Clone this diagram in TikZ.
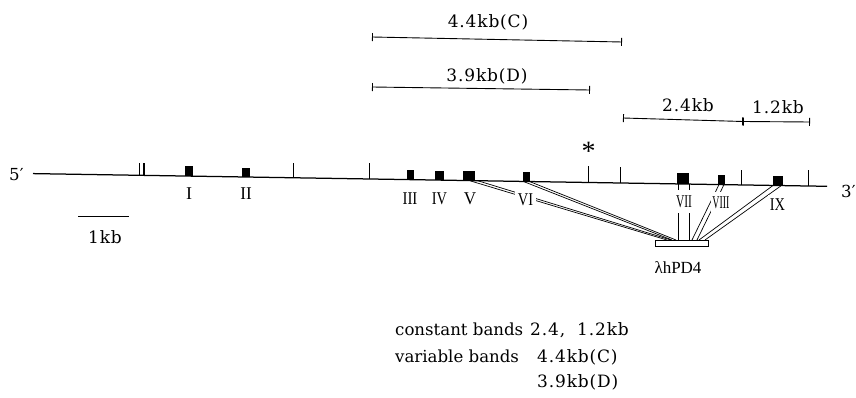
\documentclass[tikz,border=0pt]{standalone}
\usepackage{fontspec}
\usepackage{graphicx}
\setmainfont{Liberation Serif}
\newfontfamily\tf{DejaVu Serif}
\newfontfamily\nf[LetterSpace=5]{DejaVu Serif}
\usetikzlibrary{arrows.meta}
\begin{document}
\begin{tikzpicture}[x=1pt,y=-1pt,
  mainline/.style={line width=1.25pt},
  thinline/.style={line width=0.9pt},
  conn/.style={line width=0.7pt},
  barline/.style={line width=0.9pt,{Bar[width=8pt,line width=0.9pt]}-{Bar[width=8pt,line width=0.9pt]}},
  rn/.style={font=\fontsize{18}{18}\selectfont, fill=white, inner sep=1.8pt},
  num/.style={font=\nf\fontsize{17}{18}\selectfont, inner sep=0pt},
  txt/.style={font=\tf\fontsize{16.6}{18}\selectfont, inner sep=0pt},
  exon/.style={fill=black}]
\useasboundingbox (0,0) rectangle (856,398);
\def\ly#1{173.6+((#1)-33)*0.016}
% main line
\coordinate (L0) at (33,173.6);
\coordinate (L1) at (827,186.3);
\draw[mainline] (L0) -- (L1);
\node[txt, anchor=base west] (five) at (9,181) {5′};
\node[txt, anchor=base west] (three) at (841,197) {3′};
% ticks
\foreach \x/\h in {293/15,369/16,588/16,620/16,741/15,808/16}
  \draw[thinline] (\x,{\ly{\x}}) -- ++(0,-\h);
\draw[thinline] (139.5,{\ly{139.5}}) -- ++(0,-12);
\draw[line width=1.9pt] (144,{\ly{144}}) -- ++(0,-12);
% exons
\foreach \a/\b/\h in {185/193/10,242/250/9.5,407/414/9.5,435/444/9.5,463/475/10,523/530/9.5,677/689/11,718/725/9.5,773/783/9.5}
  \fill[exon] (\a,{\ly{(\a+\b)/2}}) rectangle (\b,{\ly{(\a+\b)/2}-\h});
% box and connectors
\coordinate (v1) at (470,180.8);
\coordinate (v2) at (478,180.8);
\coordinate (s1) at (524,181.7);
\coordinate (s2) at (530,181.7);
\coordinate (g1) at (678,184);
\coordinate (g2) at (689,184);
\coordinate (e1) at (719,184.6);
\coordinate (e2) at (724,184.6);
\coordinate (n1) at (773,185.5);
\coordinate (n2) at (781,185.8);
\draw[conn] (v1) -- (667,240);
\draw[conn] (v2) -- (671,240);
\draw[conn] (s1) -- (672,240);
\draw[conn] (s2) -- (676,240);
\draw[conn] (g1) -- (678,240);
\draw[conn] (g2) -- (689,240);
\draw[conn] (e1) -- (692,240);
\draw[conn] (e2) -- (697,240);
\draw[conn] (n1) -- (699,240);
\draw[conn] (n2) -- (705,240);
\node[draw, fill=white, line width=0.8pt, minimum width=53pt, minimum height=6pt, inner sep=0pt, anchor=north west] (box) at (655,240) {};
\node[font=\fontsize{17}{17}\selectfont, inner sep=0pt, anchor=base] (lam) at (678,273) {λhPD4};
% roman labels
\node[rn] (rI) at (189,194) {I};
\node[rn] (rII) at (246,194) {\scalebox{0.95}[1]{II}};
\node[rn] (rIII) at (410,199) {\scalebox{0.83}[1]{III}};
\node[rn] (rIV) at (439.5,199) {\scalebox{0.8}[1]{IV}};
\node[rn] (rV) at (470,199) {\scalebox{0.95}[1]{V}};
\node[rn, inner sep=2.5pt] (rVI) at (525.5,200) {\scalebox{0.8}[1]{VI}};
\node[rn, minimum height=22pt, inner xsep=1pt] (rVII) at (684,201.5) {\scalebox{0.64}[1]{VII}};
\node[rn, minimum height=20pt] (rVIII) at (721,202.5) {\scalebox{0.55}[1]{VIII}};
\node[rn, minimum height=19pt] (rIX) at (777.5,204.5) {\scalebox{0.8}[1]{IX}};
% asterisk
\node[font=\fontsize{28}{28}\selectfont, inner sep=0pt, anchor=base] (star) at (588.5,161) {*};
% brackets
\coordinate (c1) at (372,37);
\coordinate (c2) at (622,42);
\coordinate (d1) at (372,87);
\coordinate (d2) at (590,90);
\coordinate (b1) at (623,118);
\coordinate (b2) at (743,121.5);
\coordinate (b3) at (810,122);
\draw[barline] (c1) -- (c2);
\draw[barline] (d1) -- (d2);
\draw[barline] (b1) -- (b2);
\draw[barline] (b2) -- (b3);
\node[num, anchor=base] (lc) at (488,28) {4.4kb(C)};
\node[num, anchor=base] (ld) at (487,82) {3.9kb(D)};
\node[num, anchor=base] (l24) at (688,112) {2.4kb};
\node[num, anchor=base] (l12) at (778,114) {1.2kb};
% scale bar
\coordinate (sb1) at (78,216);
\coordinate (sb2) at (129,216);
\draw[thinline] (sb1) -- (sb2);
\node[num, anchor=base] (l1kb) at (105,243) {1kb};
% legend
\node[txt, anchor=base west] (lg1) at (395,335) {constant bands};
\node[num, anchor=base west] (lg1a) at (530,335) {2.4,};
\node[num, anchor=base west] (lg1b) at (577,335) {1.2kb};
\node[txt, anchor=base west] (lg2) at (395,362) {variable bands};
\node[num, anchor=base west] (lg2n) at (537,362) {4.4kb(C)};
\node[num, anchor=base west] (lg3n) at (537,387) {3.9kb(D)};
\end{tikzpicture}
\end{document}
